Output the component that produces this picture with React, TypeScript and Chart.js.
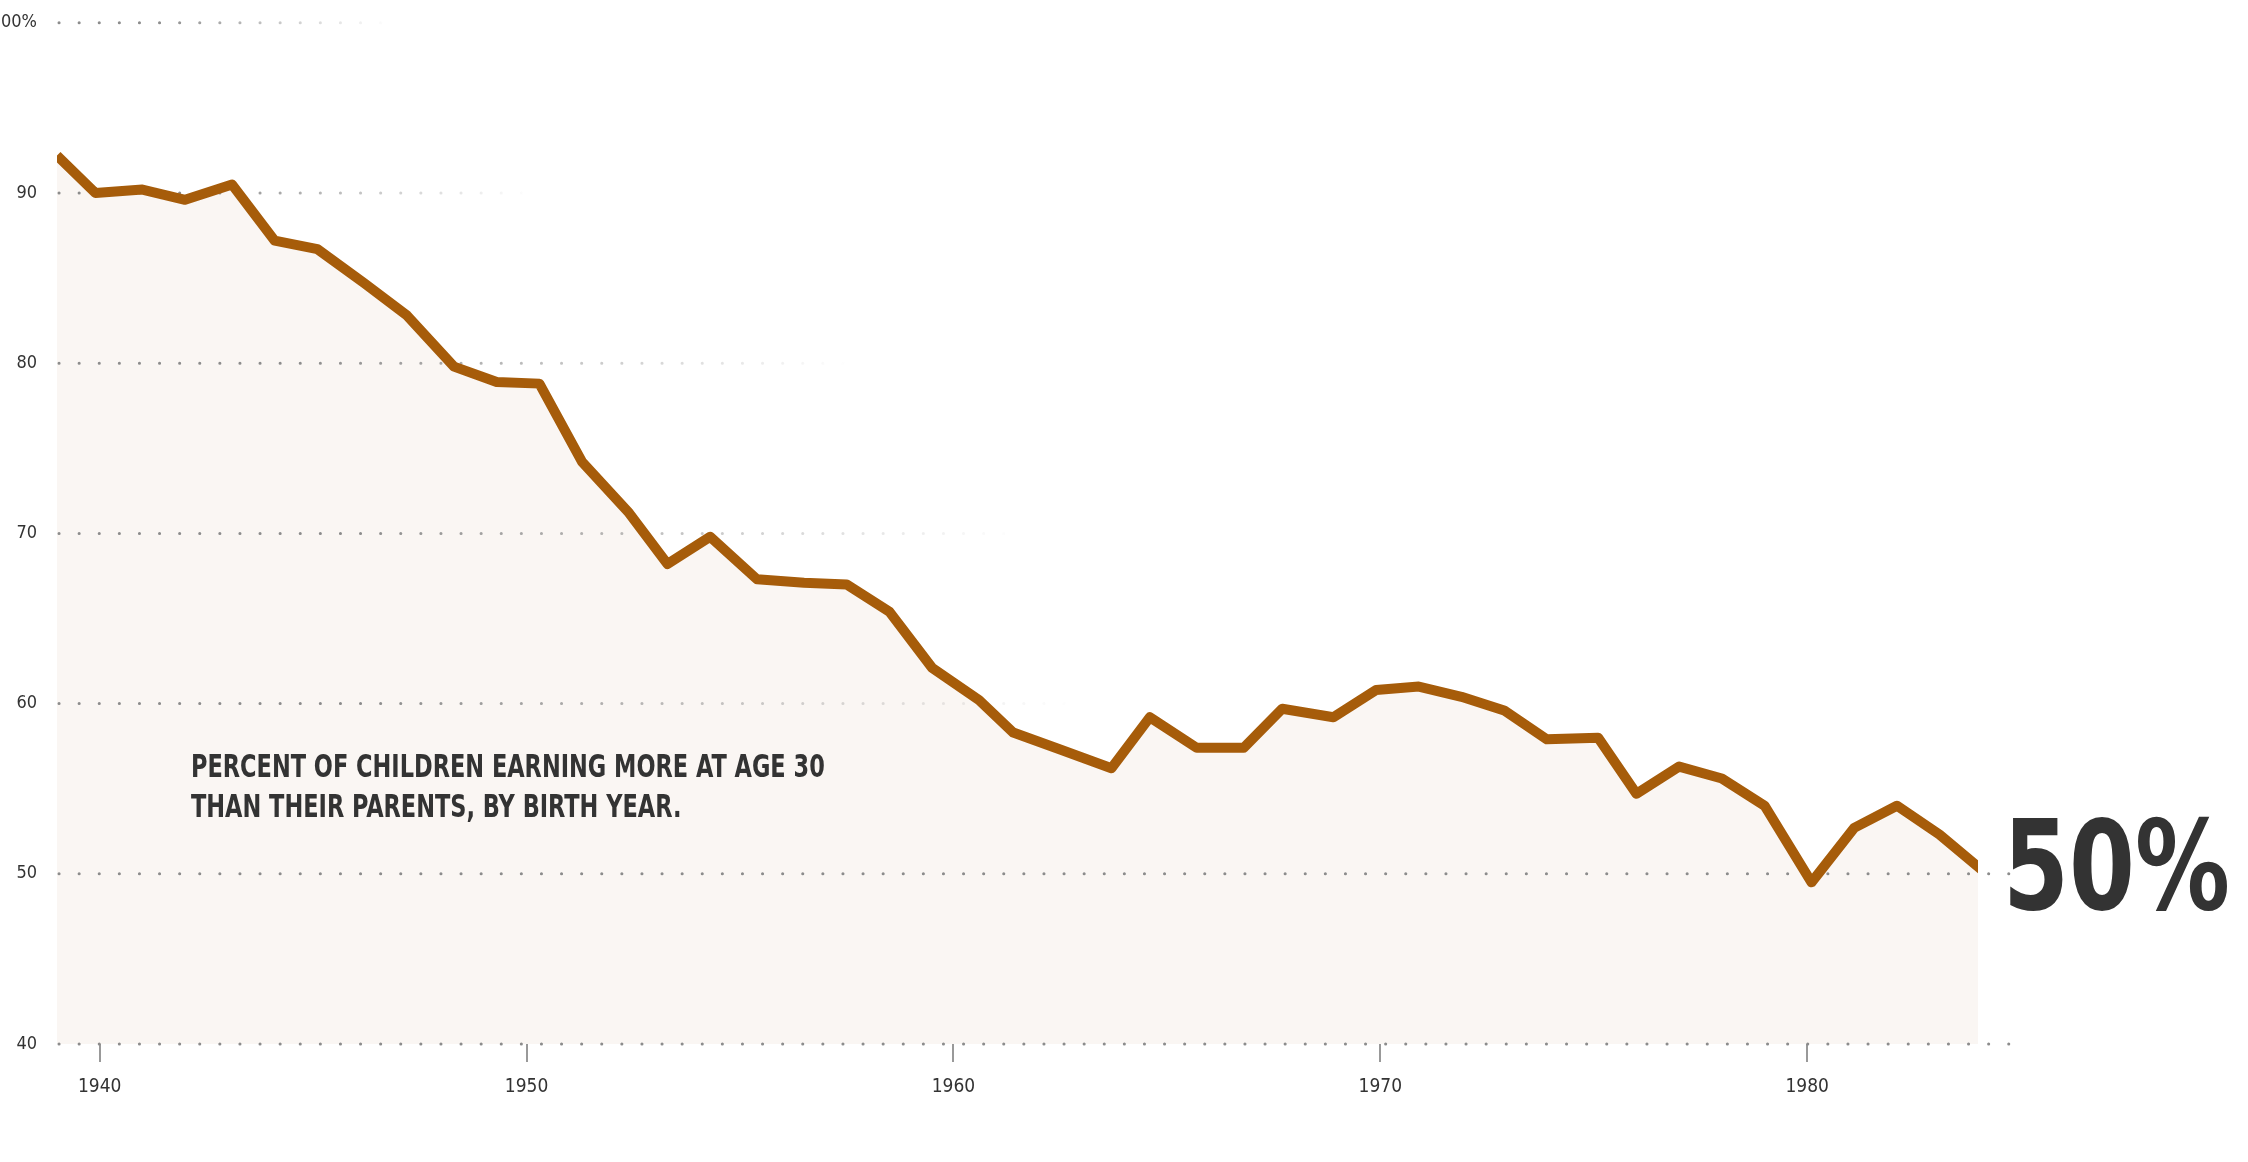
import React, { useEffect, useRef } from "react";
import { Chart, registerables } from "chart.js";
Chart.register(...registerables);

const years = [1939.0,1939.9,1941.0,1942.0,1943.1,1944.1,1945.1,1946.2,1947.2,1948.3,1949.3,1950.3,1951.3,1952.4,1953.3,1954.3,1955.4,1956.5,1957.5,1958.5,1959.5,1960.6,1961.4,1962.5,1963.7,1964.6,1965.7,1966.8,1967.7,1968.9,1969.9,1970.9,1971.9,1972.9,1973.9,1975.1,1976.0,1977.0,1978.0,1979.0,1980.1,1981.1,1982.1,1983.1,1984.1];
const values = [92.2,90.0,90.2,89.6,90.5,87.2,86.7,84.7,82.8,79.8,78.9,78.8,74.2,71.2,68.2,69.8,67.3,67.1,67.0,65.4,62.1,60.2,58.3,57.3,56.2,59.2,57.4,57.4,59.7,59.2,60.8,61.0,60.4,59.6,57.9,58.0,54.7,56.3,55.6,54.0,49.5,52.7,54.0,52.3,50.2];
const xTicks = [1940, 1950, 1960, 1970, 1980];
const yTicks = [40, 50, 60, 70, 80, 90, 100];
const gridFadeEnd: Record<number, number> = { 100: 390, 90: 530, 80: 850, 70: 1020, 60: 1075, 50: 2010, 40: 2015 };

const FONT = "'DejaVu Sans Condensed', 'Liberation Sans Narrow', 'Roboto', sans-serif";

export default function App() {
  const ref = useRef<HTMLCanvasElement>(null);
  useEffect(() => {
    const pts = years.map((x, i) => ({ x, y: values[i] }));
    const gridPlugin = {
      id: "dotgrid",
      afterDatasetDraw(chart: any, args: any) {
        if (args.index !== 1) return;
        const ctx = chart.ctx;
        const ys = chart.scales.y;
        const left = chart.chartArea.left;
        ctx.save();
        ctx.lineWidth = 3;
        ctx.lineCap = "round";
        ctx.setLineDash([0.1, 20]);
        for (const v of yTicks) {
          const y = ys.getPixelForValue(v);
          const end = gridFadeEnd[v];
          const g = ctx.createLinearGradient(left, 0, end, 0);
          g.addColorStop(0, "rgba(140,140,140,1)");
          g.addColorStop(v <= 50 ? 1 : 0.3, "rgba(140,140,140,1)");
          g.addColorStop(1, v <= 50 ? "rgba(140,140,140,1)" : "rgba(140,140,140,0)");
          ctx.strokeStyle = g;
          ctx.beginPath();
          ctx.moveTo(left + 2, y);
          ctx.lineTo(end, y);
          ctx.stroke();
        }
        ctx.restore();
      },
    };
    const chart = new Chart(ref.current!, {
      type: "line",
      data: {
        datasets: [
          { data: pts, borderColor: "#a65c0a", borderWidth: 10, pointRadius: 0, fill: false, order: 0, tension: 0, borderJoinStyle: "round" as any },
          { data: pts, borderWidth: 0, pointRadius: 0, fill: "start", backgroundColor: "#faf6f3", order: 1 },
        ],
      },
      options: {
        animation: false,
        responsive: false,
        layout: { padding: { top: 5, right: 270, left: 0, bottom: 0 } },
        plugins: { legend: { display: false }, tooltip: { enabled: false } },
        scales: {
          x: {
            type: "linear", min: 1939, max: 1984,
            afterFit: (s: any) => { s.height = 118; },
            afterBuildTicks: (s: any) => { s.ticks = xTicks.map((v) => ({ value: v })); },
            border: { display: false },
            grid: { drawOnChartArea: false, drawTicks: true, tickLength: 18, color: "#999", lineWidth: 2 },
            ticks: { padding: 14, color: "#333", font: { family: FONT, size: 19 }, callback: (v: any) => String(v) },
          },
          y: {
            min: 40, max: 100,
            afterFit: (s: any) => { s.width = 57; },
            afterBuildTicks: (s: any) => { s.ticks = yTicks.map((v) => ({ value: v })); },
            border: { display: false },
            grid: { display: false },
            ticks: { padding: 12, color: "#333", font: { family: FONT, size: 18 }, callback: (v: any) => (v === 100 ? "100%" : String(v)) },
          },
        },
      },
      plugins: [gridPlugin],
    });
    return () => chart.destroy();
  }, []);
  return (
    <div style={{ position: "fixed", left: 0, top: 0, width: 2248, height: 1162, background: "#fff" }}>
      <canvas ref={ref} width={2248} height={1162} style={{ position: "absolute", left: 0, top: 0, width: 2248, height: 1162 }} />
      <div style={{ position: "absolute", left: 191, top: 746, fontFamily: FONT, fontWeight: 700, fontSize: 32, lineHeight: "40px", color: "#333", whiteSpace: "nowrap", transform: "scaleX(0.78)", transformOrigin: "left top" }}>
        PERCENT OF CHILDREN EARNING MORE AT AGE 30<br />THAN THEIR PARENTS, BY BIRTH YEAR.
      </div>
      <div style={{ position: "absolute", left: 2003, top: 796, fontFamily: FONT, fontWeight: 700, fontSize: 124, lineHeight: "140px", color: "#333", whiteSpace: "nowrap", transform: "scaleX(0.85)", transformOrigin: "left top" }}>
        50%
      </div>
    </div>
  );
}
